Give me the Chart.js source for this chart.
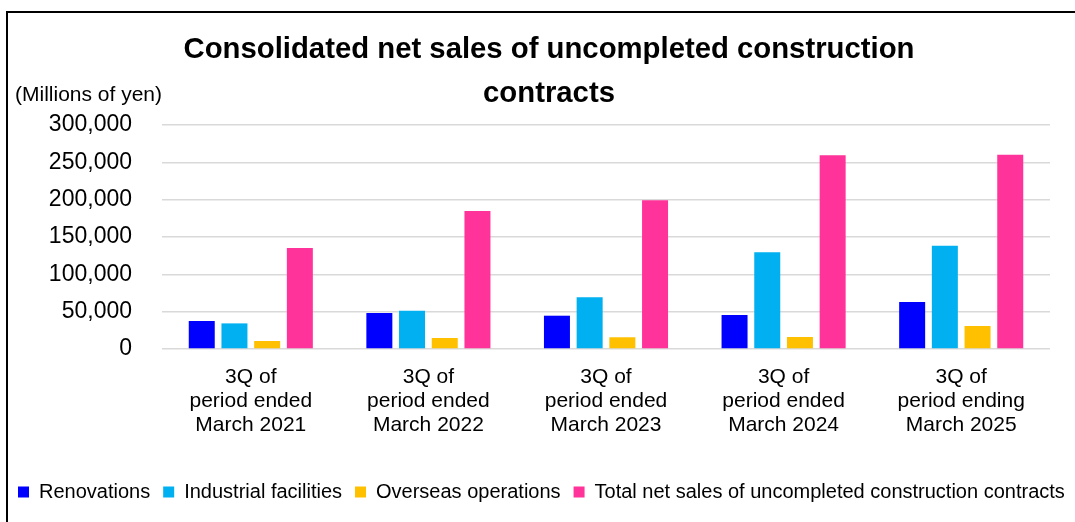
<!DOCTYPE html>
<html>
<head>
<meta charset="utf-8">
<script src="https://cdn.jsdelivr.net/npm/chart.js@4"></script>
<style>
    html, body { margin: 0; padding: 0; background: #fff; overflow: hidden; }
    #wrap { position: relative; width: 1075px; height: 522px; overflow: hidden; }
    #frame { position: absolute; left: 6px; top: 11px; width: 1200px; height: 700px;
             border: 2px solid #000; pointer-events: none; }
    canvas { display: block; }
</style>
</head>
<body>
<div id="wrap">
    <canvas id="main-chart" width="1120" height="522"></canvas>
    <div id="frame"></div>
</div>
<script>
const categories = [
    ['3Q of', 'period ended', 'March 2021'],
    ['3Q of', 'period ended', 'March 2022'],
    ['3Q of', 'period ended', 'March 2023'],
    ['3Q of', 'period ended', 'March 2024'],
    ['3Q of', 'period ending', 'March 2025']
];
const renovations = [37500, 48200, 44600, 45500, 62900];
const industrialFacilities = [34300, 51300, 69200, 129500, 138400];
const overseasOperations = [10700, 14700, 15700, 16100, 30800];
const totalNetSales = [135300, 184800, 199100, 259400, 260200];

const yMax = 300000;
const yStep = 50000;
const unitLabel = '(Millions of yen)';
const titleLines = ['Consolidated net sales of uncompleted construction', 'contracts'];

const fontFamily = '"Liberation Sans", Arial, sans-serif';

// unit label drawn in the top left corner
const unitLabelPlugin = {
    id: 'unitLabel',
    afterDraw(chart) {
        const ctx = chart.ctx;
        ctx.save();
        ctx.font = `21px ${fontFamily}`;
        ctx.fillStyle = '#000';
        ctx.textAlign = 'left';
        ctx.textBaseline = 'middle';
        ctx.fillText(unitLabel, 15, 95);
        ctx.restore();
    }
};

new Chart(document.getElementById('main-chart'), {
    type: 'bar',
    data: {
        labels: categories,
        datasets: [{
            label: 'Renovations',
            backgroundColor: '#0000ff',
            data: renovations
        }, {
            label: 'Industrial facilities',
            backgroundColor: '#00b0f0',
            data: industrialFacilities
        }, {
            label: 'Overseas operations',
            backgroundColor: '#ffc000',
            data: overseasOperations
        }, {
            label: 'Total net sales of uncompleted construction contracts',
            backgroundColor: '#ff3399',
            data: totalNetSales
        }]
    },
    plugins: [unitLabelPlugin],
    options: {
        responsive: false,
        animation: false,
        layout: {
            padding: { left: 5, right: 27, top: 18, bottom: 10 }
        },
        datasets: {
            bar: {
                categoryPercentage: 0.7365,
                barPercentage: 0.795
            }
        },
        plugins: {
            title: {
                display: true,
                text: titleLines,
                color: '#000',
                font: { family: fontFamily, size: 29.3, weight: 'bold', lineHeight: 44 / 29.3 },
                padding: { top: 10, bottom: 9 }
            },
            legend: {
                position: 'bottom',
                align: 'start',
                labels: {
                    color: '#000',
                    boxWidth: 11,
                    boxHeight: 11,
                    padding: 13,
                    font: { family: fontFamily, size: 20 }
                }
            },
            tooltip: { enabled: false }
        },
        scales: {
            x: {
                grid: { display: false },
                border: { display: false },
                ticks: {
                    color: '#000',
                    padding: 8,
                    maxRotation: 0,
                    autoSkip: false,
                    font: { family: fontFamily, size: 21, lineHeight: 24 / 21 }
                },
                afterFit(scale) { scale.height = 120; }
            },
            y: {
                min: 0,
                max: yMax,
                border: { display: false },
                grid: {
                    color: '#d9d9d9',
                    lineWidth: 1.5,
                    drawTicks: false
                },
                ticks: {
                    color: '#000',
                    stepSize: yStep,
                    padding: 30,
                    font: { family: fontFamily, size: 23 },
                    callback: (v) => v.toLocaleString('en-US')
                },
                afterFit(scale) { scale.width = 157; }
            },
            yRight: {
                position: 'right',
                display: true,
                grid: { display: false },
                border: { display: false },
                ticks: { display: false },
                afterFit(scale) { scale.width = 43; }
            }
        }
    }
});
</script>
</body>
</html>
